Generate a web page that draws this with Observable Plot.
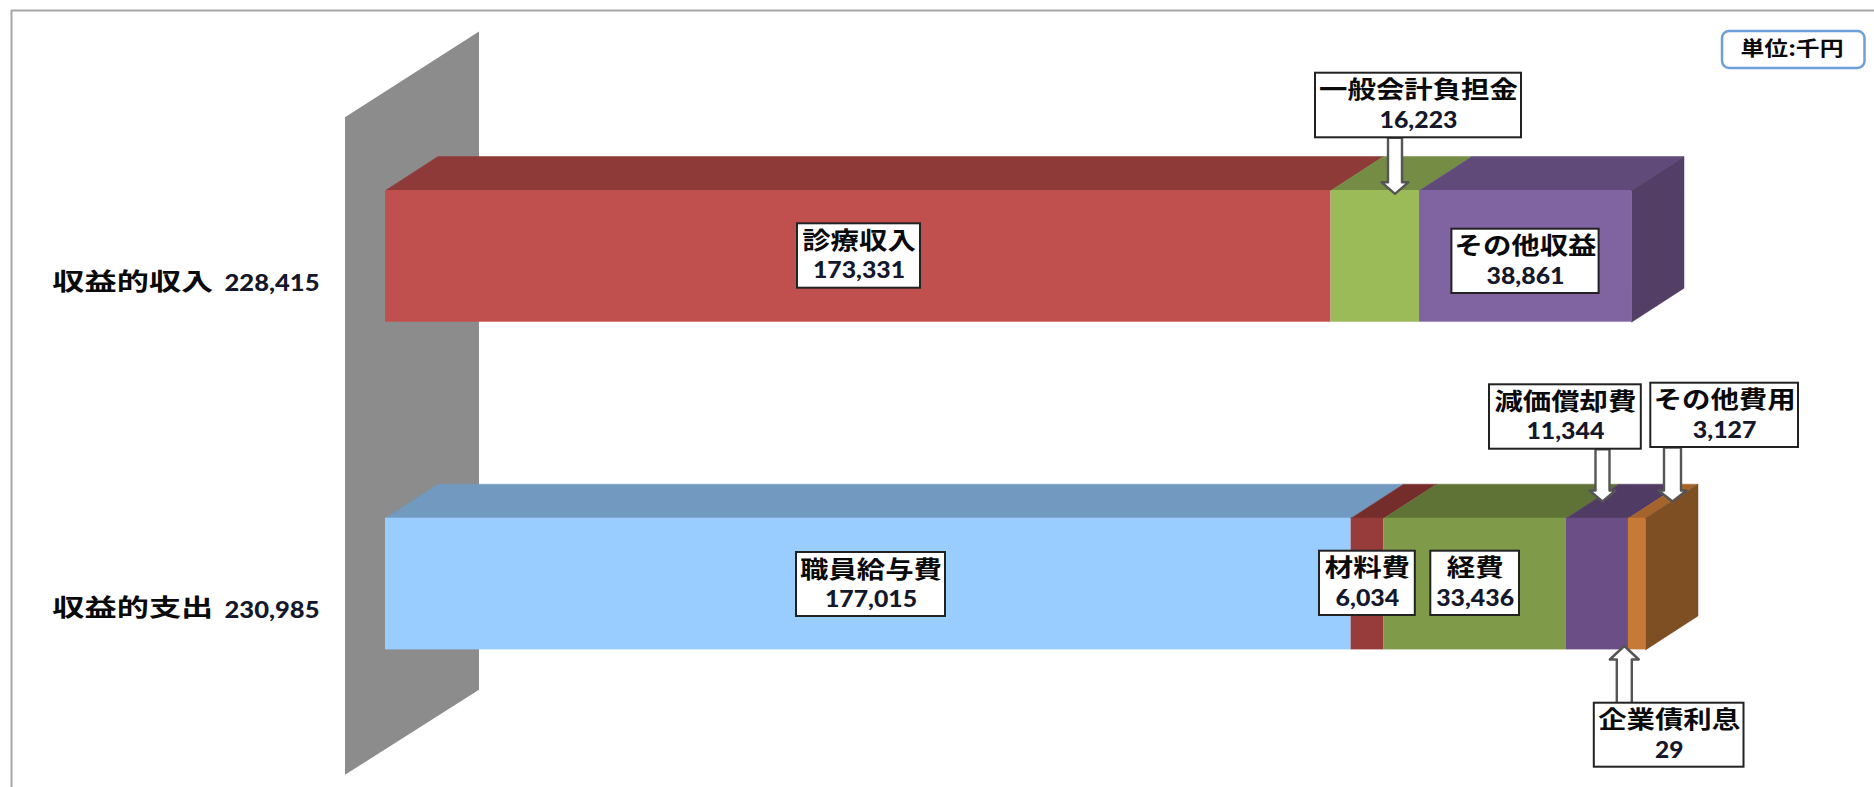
<!DOCTYPE html>
<html lang="ja">
<head>
<meta charset="utf-8">
<script src="https://cdn.jsdelivr.net/npm/d3@7"></script>
<script src="https://cdn.jsdelivr.net/npm/@observablehq/plot@0.6"></script>
<style>
html,body{margin:0;padding:0;background:#fff;overflow:hidden}
svg{display:block}
</style>
</head>
<body>
<div id="chart"></div>
<script>
// ---- data ----
const rowNames = ["収益的収入", "収益的支出"];
const rowTotals = [228415, 230985];
const incomeNames = ["診療収入", "一般会計負担金", "その他収益"];
const incomeValues = [173331, 16223, 38861];
const expenseNames = ["職員給与費", "材料費", "経費", "減価償却費", "企業債利息", "その他費用"];
const expenseValues = [177015, 6034, 33436, 11344, 29, 3127];

// ---- styles ----
const incomeFront = ["#c0504d", "#9bbb59", "#8064a2"];
const incomeTop = ["#8d3a38", "#748c43", "#604a7a"];
const expenseFront = ["#99ccff", "#963c3a", "#7f9a48", "#6a4e85", "#c77a36"];
const expenseTop = ["#7299bf", "#752d2b", "#5f7336", "#503b64", "#a5642b"];
const sideColors = ["#533f66", "#7f4f24"];

// ---- layout (page pixels) ----
const W = 1874, H = 787;
const originPx = 385, pxPerUnit = 0.005455;
const rowTop = [190, 517.7], barH = 131.7, depthX = 52.5, depthY = 34;
const toV = p => (p - originPx) / pxPerUnit;

const boxes = {
  "診療収入": [797, 920, 223.3, 287.7],
  "一般会計負担金": [1315, 1521, 72.7, 137.3],
  "その他収益": [1451.4, 1598.6, 228.7, 293],
  "職員給与費": [796, 945, 552, 616],
  "材料費": [1319, 1414.8, 550.7, 615],
  "経費": [1430.3, 1519, 550.7, 615],
  "減価償却費": [1489, 1640.8, 384.3, 448.7],
  "その他費用": [1650.3, 1798, 382.7, 447],
  "企業債利息": [1593.8, 1743.5, 702.7, 766.7]
};
// centre, shaft half width, head half width, start y, head base y, tip y
const arrows = [
  [1394.5, 7, 13.5, 137.3, 181.7, 193.3],
  [1602, 7, 13, 448.7, 490, 501],
  [1672, 8.5, 14, 447, 490, 501],
  [1623.8, 7.5, 14.5, 702.7, 659, 645.5]
];

// ---- derived tables ----
function segments(names, values, front, top, r) {
  let c = 0, ci = 0;
  const out = [];
  names.forEach((name, i) => {
    const v = values[i];
    if (v < 100 && out.length) {          // 企業債利息 (29) is too thin to see
      out[out.length - 1].x2 += v;
    } else {
      out.push({name, value: v, x1: c, x2: c + v, row: r, front: front[ci], top: top[ci]});
      ci++;
    }
    c += v;
  });
  return out;
}
const segs = [
  ...segments(incomeNames, incomeValues, incomeFront, incomeTop, 0),
  ...segments(expenseNames, expenseValues, expenseFront, expenseTop, 1)
];

const labels = [...incomeNames.map((n, i) => ({name: n, value: incomeValues[i]})),
                ...expenseNames.map((n, i) => ({name: n, value: expenseValues[i]}))];
labels.forEach(d => { const b = boxes[d.name]; d.cx = (b[0] + b[1]) / 2; d.top = b[2]; });

const fmt = d3.format(",");
const valueWidth = s => (s.replace(",", "").length * 14.2 + (s.includes(",") ? 7 : 0));

const poly = (pts, opts) => Plot.line([...pts, pts[0]], {x: d => d[0], y: d => d[1], ...opts});

// stretch text horizontally to the width it has in the picture
const stretched = widthOf => ({
  render(index, scales, values, dims, ctx, next) {
    const g = next(index, scales, values, dims, ctx);
    g.querySelectorAll("text").forEach(t => {
      t.setAttribute("textLength", widthOf(t.textContent));
      t.setAttribute("lengthAdjust", "spacingAndGlyphs");
    });
    return g;
  }
});
const JP = "'Noto Sans CJK JP', sans-serif";
const NUM = "Lato, 'Open Sans', sans-serif";
const nameOpts = {fontFamily: JP, fontWeight: 700, fontSize: 24, fill: "#0a0a0a", textAnchor: "middle", lineAnchor: "middle"};
const numOpts = {fontFamily: NUM, fontWeight: 900, fontSize: 22, fill: "#14182a", textAnchor: "middle", lineAnchor: "middle"};

const marks = [
  // frame
  Plot.ruleX([toV(11)], {y1: 10, y2: H, stroke: "#a6a6a6", strokeWidth: 2}),
  Plot.ruleY([10], {x1: toV(11), x2: toV(W), stroke: "#a6a6a6", strokeWidth: 2}),
  // back wall
  poly([[toV(344.5), 116.7], [toV(478.5), 31], [toV(478.5), 689.3], [toV(344.5), 774.3]], {fill: "#8c8c8c", stroke: "none"}),
  // top faces
  ...segs.map(d => {
    const y = rowTop[d.row], dv = depthX / pxPerUnit;
    return poly([[d.x1, y], [d.x2, y], [d.x2 + dv, y - depthY], [d.x1 + dv, y - depthY]], {fill: d.top, stroke: d.top, strokeWidth: 0.5});
  }),
  // right side faces
  ...rowTotals.map((t, r) => {
    const y = rowTop[r], dv = depthX / pxPerUnit;
    return poly([[t, y], [t + dv, y - depthY], [t + dv, y - depthY + barH], [t, y + barH]], {fill: sideColors[r], stroke: sideColors[r], strokeWidth: 0.5});
  }),
  // front faces: the bars
  Plot.rect(segs, {x1: "x1", x2: "x2", y1: d => rowTop[d.row], y2: d => rowTop[d.row] + barH, fill: "front"}),
  // arrows
  ...arrows.map(([c, s, h, y0, yb, yt]) => poly([
    [toV(c - s), y0], [toV(c - s), yb], [toV(c - h), yb], [toV(c), yt],
    [toV(c + h), yb], [toV(c + s), yb], [toV(c + s), y0]
  ], {fill: "#fff", stroke: "#555", strokeWidth: 2.4})),
  // callout boxes
  Plot.rect(labels, {x1: d => toV(boxes[d.name][0]), x2: d => toV(boxes[d.name][1]), y1: d => boxes[d.name][2], y2: d => boxes[d.name][3], fill: "#fff", stroke: "#222", strokeWidth: 2}),
  Plot.text(labels, {x: d => toV(d.cx), y: d => d.top + 17.5, text: "name", ...nameOpts, ...stretched(s => s.length * 28.4)}),
  Plot.text(labels, {x: d => toV(d.cx), y: d => d.top + 47.5, text: d => fmt(d.value), ...numOpts, ...stretched(valueWidth)}),
  // row labels
  Plot.text(rowNames, {x: toV(132.3), y: (d, i) => [281.7, 608][i], text: d => d, ...nameOpts, ...stretched(() => 161)}),
  Plot.text(rowTotals, {x: toV(271.5), y: (d, i) => [283.5, 610.5][i], text: d => fmt(d), ...numOpts, fontSize: 23, ...stretched(() => 95)}),
  // unit box
  Plot.rect([0], {x1: toV(1722), x2: toV(1864.5), y1: 31, y2: 68, fill: "#fff", stroke: "#6f9fd8", strokeWidth: 2.5, rx: 7}),
  Plot.text(["単位:千円"], {x: toV(1791.5), y: 49.5, text: d => d, ...nameOpts, fontSize: 20, ...stretched(() => 103)})
];

const chart = Plot.plot({
  width: W, height: H,
  margin: 0,
  x: {domain: [toV(0), toV(W)], range: [0, W], axis: null},
  y: {domain: [0, H], range: [0, H], axis: null},
  style: {background: "#fff"},
  marks
});
document.getElementById("chart").append(chart);
</script>
</body>
</html>
